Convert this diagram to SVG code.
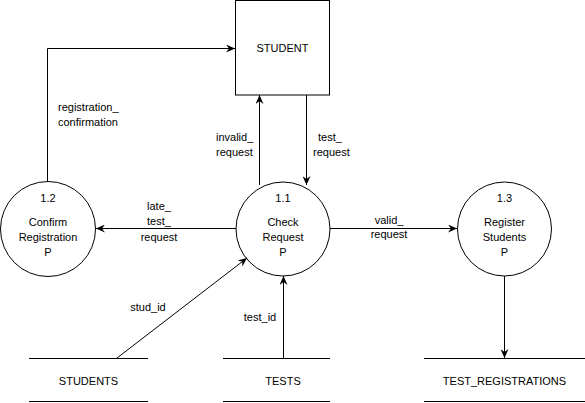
<svg xmlns="http://www.w3.org/2000/svg" width="585" height="403" viewBox="0 0 585 403">
<style>
text{font-family:"Liberation Sans",Arial,sans-serif;font-size:11px;fill:#000;text-anchor:middle}
.s{fill:none;stroke:#000;stroke-width:1}
.l{text-anchor:start}
</style>
<defs>
<marker id="a" markerWidth="10" markerHeight="8" refX="9" refY="4" orient="auto" markerUnits="userSpaceOnUse">
<path d="M0,0 L9,4 L0,8 L3,4 Z" fill="#000"/>
</marker>
</defs>
<rect width="585" height="403" fill="#fff"/>
<g id="student">
<rect class="s" x="235.5" y="0.5" width="94" height="94.5"/>
<text x="282.5" y="52">STUDENT</text>
</g>
<g id="p1_2">
<circle class="s" cx="48" cy="229" r="47.5"/>
<text x="48" y="202">1.2</text>
<text x="48" y="226">Confirm</text>
<text x="48" y="241">Registration</text>
<text x="48" y="256">P</text>
</g>
<g id="p1_1">
<circle class="s" cx="283" cy="229" r="47"/>
<text x="283" y="202">1.1</text>
<text x="283" y="226">Check</text>
<text x="283" y="241">Request</text>
<text x="283" y="256">P</text>
</g>
<g id="p1_3">
<circle class="s" cx="504.5" cy="229" r="47"/>
<text x="504.5" y="202">1.3</text>
<text x="504.5" y="226">Register</text>
<text x="504.5" y="241">Students</text>
<text x="504.5" y="256">P</text>
</g>
<g id="students">
<path class="s" d="M29,358.5 H148 M29,401.5 H148"/>
<text x="88.5" y="385">STUDENTS</text>
</g>
<g id="tests">
<path class="s" d="M223,358.5 H330 M223,401.5 H330"/>
<text x="283" y="385">TESTS</text>
</g>
<g id="test_registrations">
<path class="s" d="M424,358.5 H585 M424,401.5 H585"/>
<text x="504.5" y="385">TEST_REGISTRATIONS</text>
</g>
<g id="connectors">
<path class="s" d="M47.5,182 V48.5 H235" marker-end="url(#a)"/>
<path class="s" d="M259.5,185 V95" marker-end="url(#a)"/>
<path class="s" d="M306.5,95 V185" marker-end="url(#a)"/>
<path class="s" d="M236,228.5 H96" marker-end="url(#a)"/>
<path class="s" d="M330,228.5 H457" marker-end="url(#a)"/>
<path class="s" d="M117,358 L247,258" marker-end="url(#a)"/>
<path class="s" d="M283.5,358 V276" marker-end="url(#a)"/>
<path class="s" d="M504.5,276 V358" marker-end="url(#a)"/>
<text class="l" x="58" y="111">registration_</text>
<text class="l" x="58" y="126">confirmation</text>
<text class="l" x="216" y="141">invalid_</text>
<text class="l" x="216" y="156">request</text>
<text class="l" x="318" y="141">test_</text>
<text class="l" x="313" y="156">request</text>
<text x="159" y="210">late_</text>
<text x="159" y="225">test_</text>
<text x="159" y="241">request</text>
<text x="389" y="224">valid_</text>
<text x="389" y="238">request</text>
<text x="148" y="311">stud_id</text>
<text x="260" y="321">test_id</text>
</g>
</svg>
